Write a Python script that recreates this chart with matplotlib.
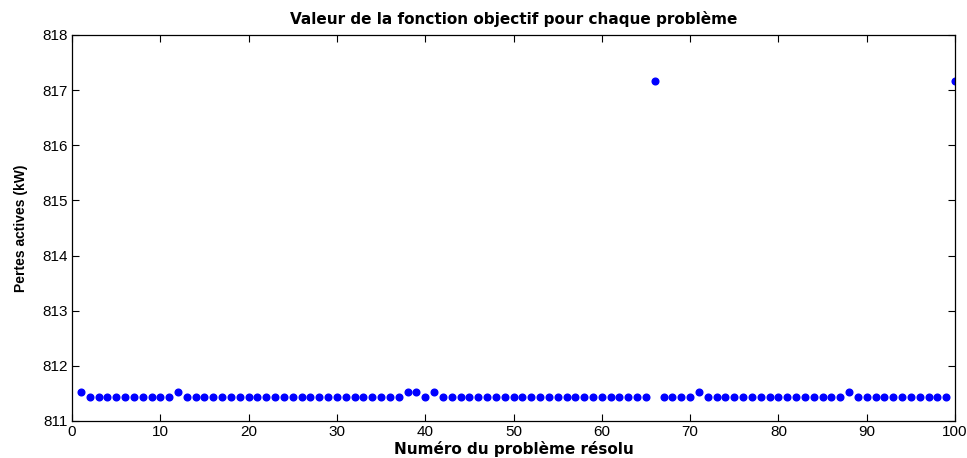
import matplotlib
matplotlib.use('Agg')
import matplotlib.pyplot as plt

# numero du probleme et pertes actives (kW)
problemes = list(range(1, 101))
pertes = [811.43] * 100
for p in [1, 12, 38, 39, 41, 71, 88]:
    pertes[p - 1] = 811.53
for p in [66, 100]:
    pertes[p - 1] = 817.17

xticks = list(range(0, 101, 10))
yticks = list(range(811, 819))

plt.rcParams['font.family'] = ['Liberation Sans', 'DejaVu Sans']

fig = plt.figure(figsize=(9.67, 4.58), dpi=100)
ax = fig.add_axes([0.0745, 0.0808, 0.9131, 0.8428])

ax.plot(problemes, pertes, linestyle='none', marker='o', markersize=4.8,
        color='#0000ff', markeredgecolor='#0000ff')

ax.set_xlim(0, 100)
ax.set_ylim(811, 818)
ax.set_xticks(xticks)
ax.set_yticks(yticks)
ax.tick_params(direction='in', top=True, right=True, length=5, width=0.8,
               labelsize=11, pad=3)
for s in ax.spines.values():
    s.set_linewidth(0.9)

ax.set_title('Valeur de la fonction objectif pour chaque problème',
             fontsize=11, fontweight='bold', family='DejaVu Sans', pad=8)
ax.set_xlabel('Numéro du problème résolu', fontsize=11, fontweight='bold',
              family='DejaVu Sans', labelpad=1)
ax.set_ylabel('Pertes actives (kW)', fontsize=10, fontweight='bold', labelpad=10)

fig.savefig('out.png', dpi=100)
